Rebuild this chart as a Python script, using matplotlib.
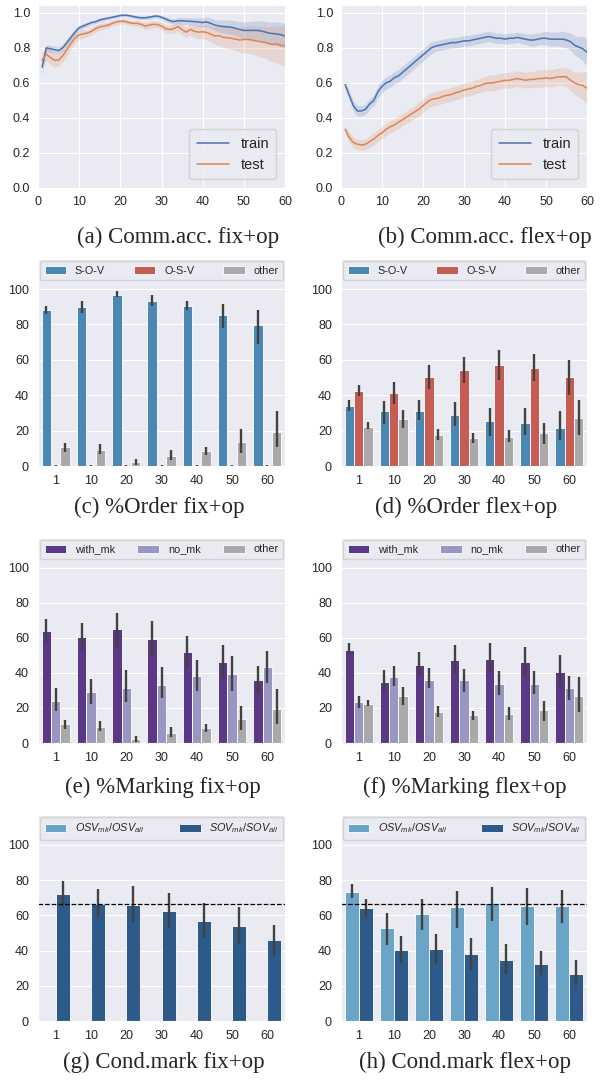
import matplotlib
matplotlib.use("Agg")
import matplotlib.pyplot as plt
import numpy as np
import seaborn as sns

sns.set_style("darkgrid")
plt.rcParams["font.family"] = ["Liberation Sans", "DejaVu Sans"]
plt.rcParams["mathtext.fontset"] = "custom"
plt.rcParams["mathtext.it"] = "Liberation Sans:italic"
plt.rcParams["mathtext.rm"] = "Liberation Sans"

# ---- line charts: communication accuracy per epoch ----
epochs = list(range(1, 61))

train_a = [0.69, 0.80, 0.795, 0.79, 0.785, 0.80, 0.83, 0.86, 0.89, 0.915,
           0.925, 0.935, 0.945, 0.95, 0.96, 0.965, 0.97, 0.975, 0.98, 0.985,
           0.987, 0.985, 0.98, 0.975, 0.972, 0.972, 0.975, 0.98, 0.982, 0.975,
           0.965, 0.955, 0.95, 0.955, 0.955, 0.953, 0.952, 0.95, 0.948, 0.945,
           0.948, 0.94, 0.93, 0.925, 0.922, 0.92, 0.918, 0.912, 0.905, 0.90,
           0.90, 0.90, 0.90, 0.898, 0.892, 0.885, 0.882, 0.88, 0.875, 0.868]
train_a_ci = [0.05, 0.02, 0.02, 0.02, 0.02, 0.02, 0.02, 0.02, 0.02, 0.015,
              0.015, 0.012, 0.01, 0.01, 0.01, 0.01, 0.01, 0.008, 0.008, 0.008,
              0.008, 0.008, 0.01, 0.01, 0.01, 0.01, 0.01, 0.01, 0.01, 0.012,
              0.015, 0.015, 0.015, 0.018, 0.02, 0.02, 0.02, 0.022, 0.025, 0.025,
              0.028, 0.03, 0.032, 0.035, 0.037, 0.04, 0.04, 0.042, 0.045, 0.048,
              0.05, 0.052, 0.055, 0.057, 0.06, 0.062, 0.065, 0.067, 0.07, 0.072]
test_a = [0.73, 0.765, 0.745, 0.73, 0.73, 0.755, 0.79, 0.825, 0.855, 0.875,
          0.88, 0.885, 0.895, 0.91, 0.92, 0.925, 0.93, 0.94, 0.948, 0.952,
          0.952, 0.945, 0.94, 0.94, 0.935, 0.925, 0.93, 0.935, 0.933, 0.925,
          0.91, 0.905, 0.91, 0.922, 0.905, 0.89, 0.905, 0.895, 0.89, 0.892,
          0.888, 0.878, 0.868, 0.87, 0.86, 0.858, 0.855, 0.85, 0.845, 0.848,
          0.848, 0.845, 0.84, 0.835, 0.832, 0.825, 0.82, 0.822, 0.815, 0.812]
test_a_ci = [0.04, 0.035, 0.04, 0.04, 0.035, 0.035, 0.035, 0.03, 0.03, 0.025,
             0.025, 0.02, 0.02, 0.02, 0.02, 0.018, 0.015, 0.015, 0.015, 0.015,
             0.015, 0.015, 0.015, 0.018, 0.018, 0.02, 0.02, 0.02, 0.02, 0.02,
             0.022, 0.025, 0.025, 0.028, 0.03, 0.03, 0.032, 0.035, 0.038, 0.04,
             0.042, 0.045, 0.05, 0.055, 0.058, 0.06, 0.062, 0.065, 0.07, 0.075,
             0.078, 0.08, 0.085, 0.088, 0.09, 0.095, 0.1, 0.105, 0.11, 0.115]

train_b = [0.59, 0.53, 0.47, 0.44, 0.44, 0.45, 0.48, 0.50, 0.55, 0.58,
           0.60, 0.61, 0.63, 0.64, 0.66, 0.68, 0.70, 0.72, 0.74, 0.76,
           0.78, 0.80, 0.81, 0.815, 0.82, 0.825, 0.83, 0.83, 0.835, 0.84,
           0.84, 0.845, 0.85, 0.855, 0.86, 0.865, 0.86, 0.855, 0.855, 0.85,
           0.855, 0.855, 0.86, 0.855, 0.85, 0.845, 0.845, 0.85, 0.855, 0.855,
           0.85, 0.85, 0.85, 0.85, 0.845, 0.835, 0.815, 0.805, 0.795, 0.775]
train_b_ci = [0.02, 0.025, 0.03, 0.03, 0.03, 0.03, 0.03, 0.03, 0.035, 0.035,
              0.035, 0.035, 0.035, 0.035, 0.035, 0.035, 0.035, 0.035, 0.035, 0.035,
              0.035, 0.035, 0.03, 0.03, 0.03, 0.03, 0.03, 0.03, 0.03, 0.03,
              0.03, 0.03, 0.03, 0.03, 0.03, 0.03, 0.03, 0.03, 0.03, 0.03,
              0.03, 0.03, 0.03, 0.03, 0.03, 0.035, 0.035, 0.035, 0.035, 0.04,
              0.04, 0.04, 0.04, 0.045, 0.045, 0.05, 0.055, 0.06, 0.07, 0.08]
test_b = [0.335, 0.29, 0.26, 0.25, 0.245, 0.25, 0.265, 0.28, 0.30, 0.315,
          0.335, 0.35, 0.36, 0.375, 0.39, 0.405, 0.42, 0.435, 0.45, 0.47,
          0.49, 0.505, 0.51, 0.515, 0.525, 0.53, 0.535, 0.545, 0.55, 0.56,
          0.565, 0.57, 0.58, 0.585, 0.595, 0.60, 0.60, 0.605, 0.61, 0.615,
          0.615, 0.62, 0.625, 0.62, 0.615, 0.62, 0.62, 0.625, 0.625, 0.63,
          0.625, 0.63, 0.635, 0.635, 0.635, 0.615, 0.60, 0.59, 0.585, 0.57]
test_b_ci = [0.025, 0.03, 0.03, 0.03, 0.03, 0.03, 0.035, 0.035, 0.035, 0.035,
             0.035, 0.035, 0.035, 0.035, 0.035, 0.035, 0.035, 0.035, 0.04, 0.04,
             0.04, 0.04, 0.04, 0.04, 0.04, 0.04, 0.04, 0.04, 0.04, 0.04,
             0.04, 0.04, 0.04, 0.04, 0.04, 0.045, 0.045, 0.045, 0.045, 0.045,
             0.045, 0.045, 0.045, 0.045, 0.045, 0.045, 0.045, 0.05, 0.05, 0.05,
             0.05, 0.05, 0.05, 0.05, 0.055, 0.06, 0.065, 0.07, 0.08, 0.09]

# ---- bar charts ----
checkpoints = ["1", "10", "20", "30", "40", "50", "60"]

# (c) %Order fix+op
sov_c = [88.0, 89.6, 96.8, 93.2, 90.3, 85.6, 79.7]
sov_c_lo = [85.8, 86.3, 95.3, 90.5, 88.0, 78.2, 69.0]
sov_c_hi = [90.5, 93.4, 98.7, 96.4, 93.4, 91.8, 88.0]
osv_c = [0.2, 0.2, 0.1, 0.2, 0.2, 0.2, 0.2]
osv_c_lo = [0.0, 0.0, 0.0, 0.0, 0.0, 0.0, 0.0]
osv_c_hi = [0.5, 0.5, 0.3, 0.5, 0.5, 0.5, 0.5]
other_fix = [10.6, 8.9, 2.1, 5.9, 8.3, 13.5, 19.2]
other_fix_lo = [8.0, 6.6, 0.8, 3.4, 6.0, 7.6, 10.8]
other_fix_hi = [13.1, 12.7, 4.2, 8.9, 10.8, 20.9, 31.1]

# (d) %Order flex+op
sov_d = [34.0, 31.1, 31.1, 28.8, 25.4, 24.5, 21.6]
sov_d_lo = [31.1, 23.5, 26.2, 22.8, 16.7, 17.5, 14.6]
sov_d_hi = [37.4, 37.0, 37.4, 36.4, 33.0, 33.0, 31.1]
osv_d = [42.5, 41.2, 50.1, 54.3, 56.9, 55.6, 50.5]
osv_d_lo = [39.8, 35.1, 43.6, 47.1, 48.8, 48.2, 40.2]
osv_d_hi = [45.9, 47.4, 56.9, 61.5, 65.3, 63.4, 60.0]
other_flex = [22.0, 26.6, 17.5, 15.7, 16.5, 18.6, 26.9]
other_flex_lo = [20.9, 21.6, 14.6, 13.1, 13.3, 12.7, 17.5]
other_flex_hi = [24.7, 31.9, 20.9, 18.4, 20.5, 24.1, 37.4]

# (e) %Marking fix+op
mk_e = [63.8, 60.4, 64.8, 59.4, 51.8, 46.1, 36.2]
mk_e_lo = [57.5, 53.3, 54.3, 49.9, 42.3, 36.6, 28.6]
mk_e_hi = [70.9, 68.6, 74.3, 69.7, 61.3, 56.2, 44.2]
nomk_e = [24.2, 29.3, 31.6, 33.3, 38.5, 39.2, 43.4]
nomk_e_lo = [18.1, 22.5, 23.2, 25.7, 29.7, 29.7, 34.3]
nomk_e_hi = [31.4, 36.8, 41.9, 43.4, 47.6, 49.5, 52.4]

# (f) %Marking flex+op
mk_f = [53.3, 34.9, 44.8, 47.4, 48.2, 46.1, 40.8]
mk_f_lo = [50.5, 29.0, 38.1, 39.6, 40.4, 38.5, 32.4]
mk_f_hi = [57.1, 41.5, 52.2, 55.8, 56.8, 54.9, 50.5]
nomk_f = [23.2, 37.5, 36.2, 35.8, 33.9, 33.5, 31.2]
nomk_f_lo = [20.0, 32.4, 31.4, 29.3, 27.6, 27.8, 24.4]
nomk_f_hi = [26.7, 43.8, 42.9, 42.3, 41.3, 40.9, 38.1]

# (g) Cond.mark fix+op (no OSV orders, so no OSV bars)
osv_g = [np.nan] * 7
osv_g_lo = [np.nan] * 7
osv_g_hi = [np.nan] * 7
sov_g = [72.1, 66.6, 66.0, 62.6, 56.9, 53.9, 45.9]
sov_g_lo = [64.9, 59.2, 56.2, 53.1, 47.2, 44.0, 37.0]
sov_g_hi = [79.7, 74.8, 76.7, 72.5, 67.2, 64.9, 54.8]

# (h) Cond.mark flex+op
osv_h = [73.2, 52.6, 60.7, 64.5, 67.2, 65.5, 65.3]
osv_h_lo = [69.6, 43.4, 51.6, 53.1, 56.7, 54.3, 55.4]
osv_h_hi = [77.8, 61.5, 69.1, 73.8, 75.9, 75.3, 74.4]
sov_h = [63.9, 40.2, 41.0, 38.0, 34.5, 32.3, 26.9]
sov_h_lo = [59.2, 33.0, 32.6, 28.8, 26.9, 26.0, 20.3]
sov_h_hi = [69.1, 48.2, 49.3, 47.2, 43.5, 39.7, 34.5]

chance_line = 66.7

c_train, c_test = "#4C72B0", "#DD8452"
c_sov, c_osv, c_other = "#4a87b2", "#c65d55", "#a9a9a9"
c_mk, c_nomk = "#5b3886", "#9a96c4"
c_osvmk, c_sovmk = "#6aa4c6", "#2d5a89"

W, H = 608, 1081
fig = plt.figure(figsize=(W / 100, H / 100), dpi=100)


def px_axes(left, top, right, bottom):
    return fig.add_axes([left / W, 1 - bottom / H, (right - left) / W, (bottom - top) / H])


def line_panel(ax, tr, tr_ci, te, te_ci):
    x = np.array(epochs)
    for y, ci, col, lab in [(tr, tr_ci, c_train, "train"), (te, te_ci, c_test, "test")]:
        y = np.array(y)
        ci = np.array(ci)
        ax.fill_between(x, y - ci, y + ci, color=col, alpha=0.2, lw=0)
        ax.plot(x, y, color=col, lw=1.1, label=lab)
    ax.set_xlim(0, 60)
    ax.set_ylim(0, 1.045)
    ax.set_xticks([0, 10, 20, 30, 40, 50, 60])
    ax.set_yticks([0, 0.2, 0.4, 0.6, 0.8, 1.0])
    ax.tick_params(labelsize=9, pad=2, colors=".15")
    ax.legend(loc="lower right", fontsize=10.5, handlelength=2.2, borderpad=0.5,
              labelspacing=0.5, borderaxespad=0.6)


def bar_panel(ax, series, labels, colors):
    n = len(series)
    w = 0.8 / n
    pos = np.arange(len(checkpoints))
    for i, (vals, lo, hi) in enumerate(series):
        xs = pos - 0.4 + w * (i + 0.5)
        ax.bar(xs, vals, width=w, color=colors[i], edgecolor="white", lw=0.6,
               label=labels[i])
        ax.vlines(xs, lo, hi, color=".26", lw=1.7)
    ax.set_xlim(-0.5, len(checkpoints) - 0.5)
    ax.set_ylim(0, 117)
    ax.set_xticks(pos)
    ax.set_xticklabels(checkpoints)
    ax.set_yticks([0, 20, 40, 60, 80, 100])
    ax.xaxis.grid(False)
    ax.tick_params(labelsize=9, pad=3, colors=".15")
    ax.legend(loc="upper left", bbox_to_anchor=(0, 1, 1, 0), mode="expand", ncol=n,
              fontsize=7.8, borderaxespad=0.15, handlelength=2.0, borderpad=0.45)


# row 1
ax_a = px_axes(38, 5, 285, 188)
line_panel(ax_a, train_a, train_a_ci, test_a, test_a_ci)
ax_b = px_axes(341, 5, 587, 188)
line_panel(ax_b, train_b, train_b_ci, test_b, test_b_ci)

order_labels = ["S-O-V", "O-S-V", "other"]
order_colors = [c_sov, c_osv, c_other]
ax_c = px_axes(38, 259, 285, 466)
bar_panel(ax_c, [(sov_c, sov_c_lo, sov_c_hi), (osv_c, osv_c_lo, osv_c_hi),
                 (other_fix, other_fix_lo, other_fix_hi)], order_labels, order_colors)
ax_d = px_axes(341, 259, 587, 466)
bar_panel(ax_d, [(sov_d, sov_d_lo, sov_d_hi), (osv_d, osv_d_lo, osv_d_hi),
                 (other_flex, other_flex_lo, other_flex_hi)], order_labels, order_colors)

mk_labels = ["with_mk", "no_mk", "other"]
mk_colors = [c_mk, c_nomk, c_other]
ax_e = px_axes(38, 538, 285, 743)
bar_panel(ax_e, [(mk_e, mk_e_lo, mk_e_hi), (nomk_e, nomk_e_lo, nomk_e_hi),
                 (other_fix, other_fix_lo, other_fix_hi)], mk_labels, mk_colors)
ax_f = px_axes(341, 538, 587, 743)
bar_panel(ax_f, [(mk_f, mk_f_lo, mk_f_hi), (nomk_f, nomk_f_lo, nomk_f_hi),
                 (other_flex, other_flex_lo, other_flex_hi)], mk_labels, mk_colors)

cond_labels = [r"$OSV_{mk}/OSV_{all}$", r"$SOV_{mk}/SOV_{all}$"]
cond_colors = [c_osvmk, c_sovmk]
ax_g = px_axes(38, 815, 285, 1021)
bar_panel(ax_g, [(osv_g, osv_g_lo, osv_g_hi), (sov_g, sov_g_lo, sov_g_hi)],
          cond_labels, cond_colors)
ax_g.axhline(chance_line, color="black", ls="--", lw=0.9)
ax_h = px_axes(341, 815, 587, 1021)
bar_panel(ax_h, [(osv_h, osv_h_lo, osv_h_hi), (sov_h, sov_h_lo, sov_h_hi)],
          cond_labels, cond_colors)
ax_h.axhline(chance_line, color="black", ls="--", lw=0.9)

captions = [("(a) Comm.acc. fix+op", 178, 237), ("(b) Comm.acc. flex+op", 485, 237),
            ("(c) %Order fix+op", 159, 507), ("(d) %Order flex+op", 466, 507),
            ("(e) %Marking fix+op", 163, 787), ("(f) %Marking flex+op", 465, 787),
            ("(g) Cond.mark fix+op", 164, 1062), ("(h) Cond.mark flex+op", 465, 1062)]
for txt, cx, cy in captions:
    fig.text(cx / W, 1 - cy / H, txt, ha="center", va="center", fontsize=16.5,
             family="Liberation Serif")

fig.savefig("out.png", dpi=100)
